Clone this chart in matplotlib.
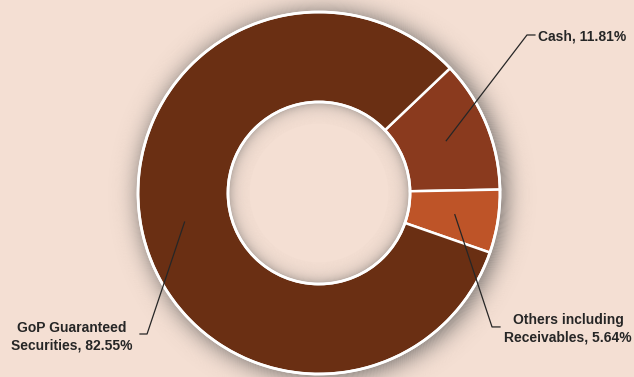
import math
import numpy as np
import matplotlib.pyplot as plt
from matplotlib.patches import Wedge

labels = ["Cash, 11.81%", "Others including\nReceivables, 5.64%", "GoP Guaranteed\nSecurities, 82.55%"]
values = [11.81, 5.64, 82.55]
colors = ["#8A3A1E", "#BE5428", "#6A2F13"]

BG = "#F4DFD3"
TXT = "#262626"
SHADOW = "#505050"
R_IN = 0.503
START = 43.6
SC = 181.0  # px per data unit
CX, CY = 319, 193

fig = plt.figure(figsize=(6.34, 3.77), dpi=100, facecolor=BG)
ax = fig.add_axes([0, 0, 1, 1])
ax.set_facecolor(BG)

x0, x1 = -CX / SC, (634 - CX) / SC
y0, y1 = -(377 - CY) / SC, CY / SC

# soft drop shadow: thin rings outside the donut and inside the hole
step = 0.005
sig = 0.065
for i in range(56):
    r = 0.98 + (i + 1) * step
    d = r - step / 2 - 1.0
    a = 0.5 * math.erfc(d / (math.sqrt(2) * sig))
    ax.add_patch(Wedge((0.018, -0.01), r, 0, 360, width=step,
                       facecolor=SHADOW, alpha=min(a, 1.0), lw=0, zorder=1))
for i in range(24):
    d = i * step + step / 2
    a = 0.45 * math.exp(-d / 0.032)
    ax.add_patch(Wedge((0, 0), R_IN - i * step, 0, 360, width=step,
                       facecolor=SHADOW, alpha=a, lw=0, zorder=1))

wedges, _ = ax.pie(values, colors=colors, startangle=START, counterclock=False,
                   radius=1.0, wedgeprops=dict(width=1 - R_IN, edgecolor="white", linewidth=1.8))
for w in wedges:
    w.set_zorder(2)
ax.add_patch(plt.Circle((0, 0), 1.0, fill=False, ec="white", lw=2.0, zorder=3))
ax.add_patch(plt.Circle((0, 0), R_IN, fill=False, ec="white", lw=2.0, zorder=3))

# leader lines and labels
corners = [((1.149, 0.873), (1.193, 0.873)),
           ((0.956, -0.740), (1.000, -0.740)),
           ((-0.950, -0.779), (-0.989, -0.779))]
text_pos = [((1.210, 0.862), "left"),
            ((1.376, -0.752), "center"),
            ((-1.365, -0.792), "center")]
for w, lab, (c1, c2), ((tx, ty), ha) in zip(wedges, labels, corners, text_pos):
    mid = np.deg2rad((w.theta1 + w.theta2) / 2)
    pt = (0.76 * np.cos(mid), 0.76 * np.sin(mid))
    ax.plot([pt[0], c1[0], c2[0]], [pt[1], c1[1], c2[1]],
            color=TXT, lw=0.9, zorder=4)
    ax.text(tx, ty, lab, ha=ha, va="center", fontsize=10, fontweight="bold",
            color=TXT, family=["Liberation Sans", "DejaVu Sans"],
            multialignment="center", linespacing=1.3, zorder=5)

ax.set_xlim(x0, x1)
ax.set_ylim(y0, y1)
ax.set_aspect("equal", adjustable="box")
ax.axis("off")

plt.savefig("out.png", dpi=100, facecolor=BG)
plt.close()
